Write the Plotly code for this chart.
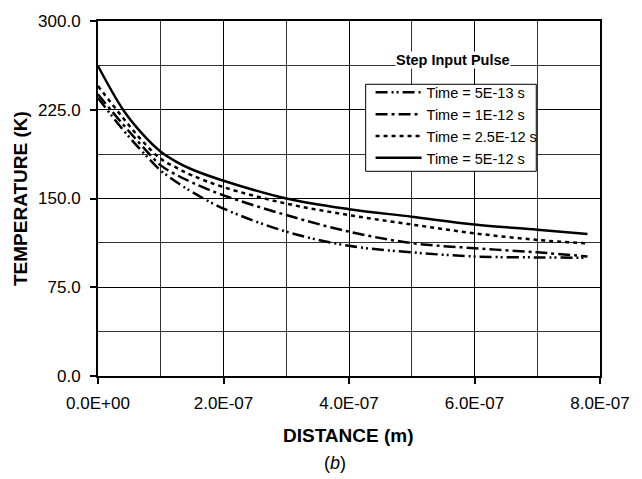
import plotly.graph_objects as go

distance_e7 = [0, 0.4, 0.7, 1, 1.25, 1.5, 2, 3, 4, 5, 6, 7, 7.8]
distance = [d * 1e-7 for d in distance_e7]
t_5e13 = [235, 208, 190, 173.6, 164, 155.5, 141.5, 122, 110, 104.5, 101, 100.2, 100]
t_1e12 = [238, 212.5, 194.5, 178, 170, 163.5, 152.7, 136, 122, 112.3, 108, 104.5, 101]
t_25e12 = [245, 218, 199, 183.5, 176, 169.5, 159.6, 145.7, 136, 128, 120.6, 115, 112]
t_5e12 = [262, 225, 205, 189.5, 181, 174.5, 165, 150, 141, 134.6, 128, 123.6, 120]

series_names = ["Time = 5E-13 s", "Time = 1E-12 s", "Time = 2.5E-12 s", "Time = 5E-12 s"]
x_tickvals = [0, 2e-7, 4e-7, 6e-7, 8e-7]
x_ticktext = ["0.0E+00", "2.0E-07", "4.0E-07", "6.0E-07", "8.0E-07"]
y_tickvals = [0, 75, 150, 225, 300]
y_ticktext = ["0.0", "75.0", "150.0", "225.0", "300.0"]

dashes = ["12px,4px,2px,3px,2px,4px", "12px,4px,3px,4px", "4px,4px", "solid"]
series = [t_5e13, t_1e12, t_25e12, t_5e12]

fig = go.Figure()
for name, ys, d in zip(series_names, series, dashes):
    fig.add_trace(go.Scatter(x=distance, y=ys, mode="lines", name=name,
                             line=dict(color="black", width=2.5, dash=d, shape="spline",
                                       smoothing=1.0)))

font = "Liberation Sans, Arial, sans-serif"
L, R, T, B = 98, 32, 17, 103
PW, PH = 642 - L - R, 479 - T - B

def px(xp):
    return (xp - L) / PW

def py(yp):
    return (479 - B - yp) / PH

fig.update_layout(
    width=642, height=479,
    margin=dict(l=L, r=R, t=T, b=B),
    paper_bgcolor="white", plot_bgcolor="white",
    font=dict(family=font, color="black", size=17),
    showlegend=True,
    legend=dict(x=px(376), y=py(73), xanchor="left", yanchor="top",
                borderwidth=0, bgcolor="rgba(0,0,0,0)",
                font=dict(size=14.5), tracegroupgap=0, itemwidth=46),
    shapes=[dict(type="rect", xref="paper", yref="paper",
                 x0=px(371), x1=px(545), y0=py(169), y1=py(81),
                 line=dict(color="black", width=1), fillcolor="white", layer="above")],
    xaxis=dict(range=[0, 8e-7], tickvals=x_tickvals, ticktext=x_ticktext,
               showgrid=True, gridcolor="black", gridwidth=1,
               minor=dict(dtick=1e-7, tick0=0, showgrid=True, gridcolor="#333", gridwidth=1),
               showline=True, linecolor="black", linewidth=2, mirror=True,
               ticks="outside", ticklen=6, tickcolor="black", tickwidth=1.5,
               ticklabelstandoff=5, zeroline=False),
    yaxis=dict(range=[0, 300], tickvals=y_tickvals, ticktext=y_ticktext,
               showgrid=True, gridcolor="black", gridwidth=1,
               minor=dict(dtick=37.5, tick0=0, showgrid=True, gridcolor="#333", gridwidth=1),
               showline=True, linecolor="black", linewidth=2, mirror=True,
               ticks="outside", ticklen=6, tickcolor="black", tickwidth=1.5,
               ticklabelstandoff=6, zeroline=False),
    annotations=[
        dict(text="<b>Step Input Pulse</b>", xref="paper", yref="paper",
             x=px(460), y=py(56), xanchor="center", yanchor="middle", showarrow=False,
             font=dict(size=14.5), bgcolor="white", borderpad=0),
        dict(text="<b>DISTANCE (m)</b>", xref="paper", yref="paper",
             x=px(353), y=py(436), xanchor="center", yanchor="middle", showarrow=False,
             font=dict(size=19)),
        dict(text="<b>TEMPERATURE (K)</b>", xref="paper", yref="paper",
             x=px(19), y=0.5, xanchor="center", yanchor="middle", showarrow=False,
             textangle=-90, font=dict(size=19)),
        dict(text="(<i>b</i>)", xref="paper", yref="paper",
             x=px(340), y=py(464), xanchor="center", yanchor="middle", showarrow=False,
             font=dict(size=18)),
    ],
)

fig.write_html("out.html")
